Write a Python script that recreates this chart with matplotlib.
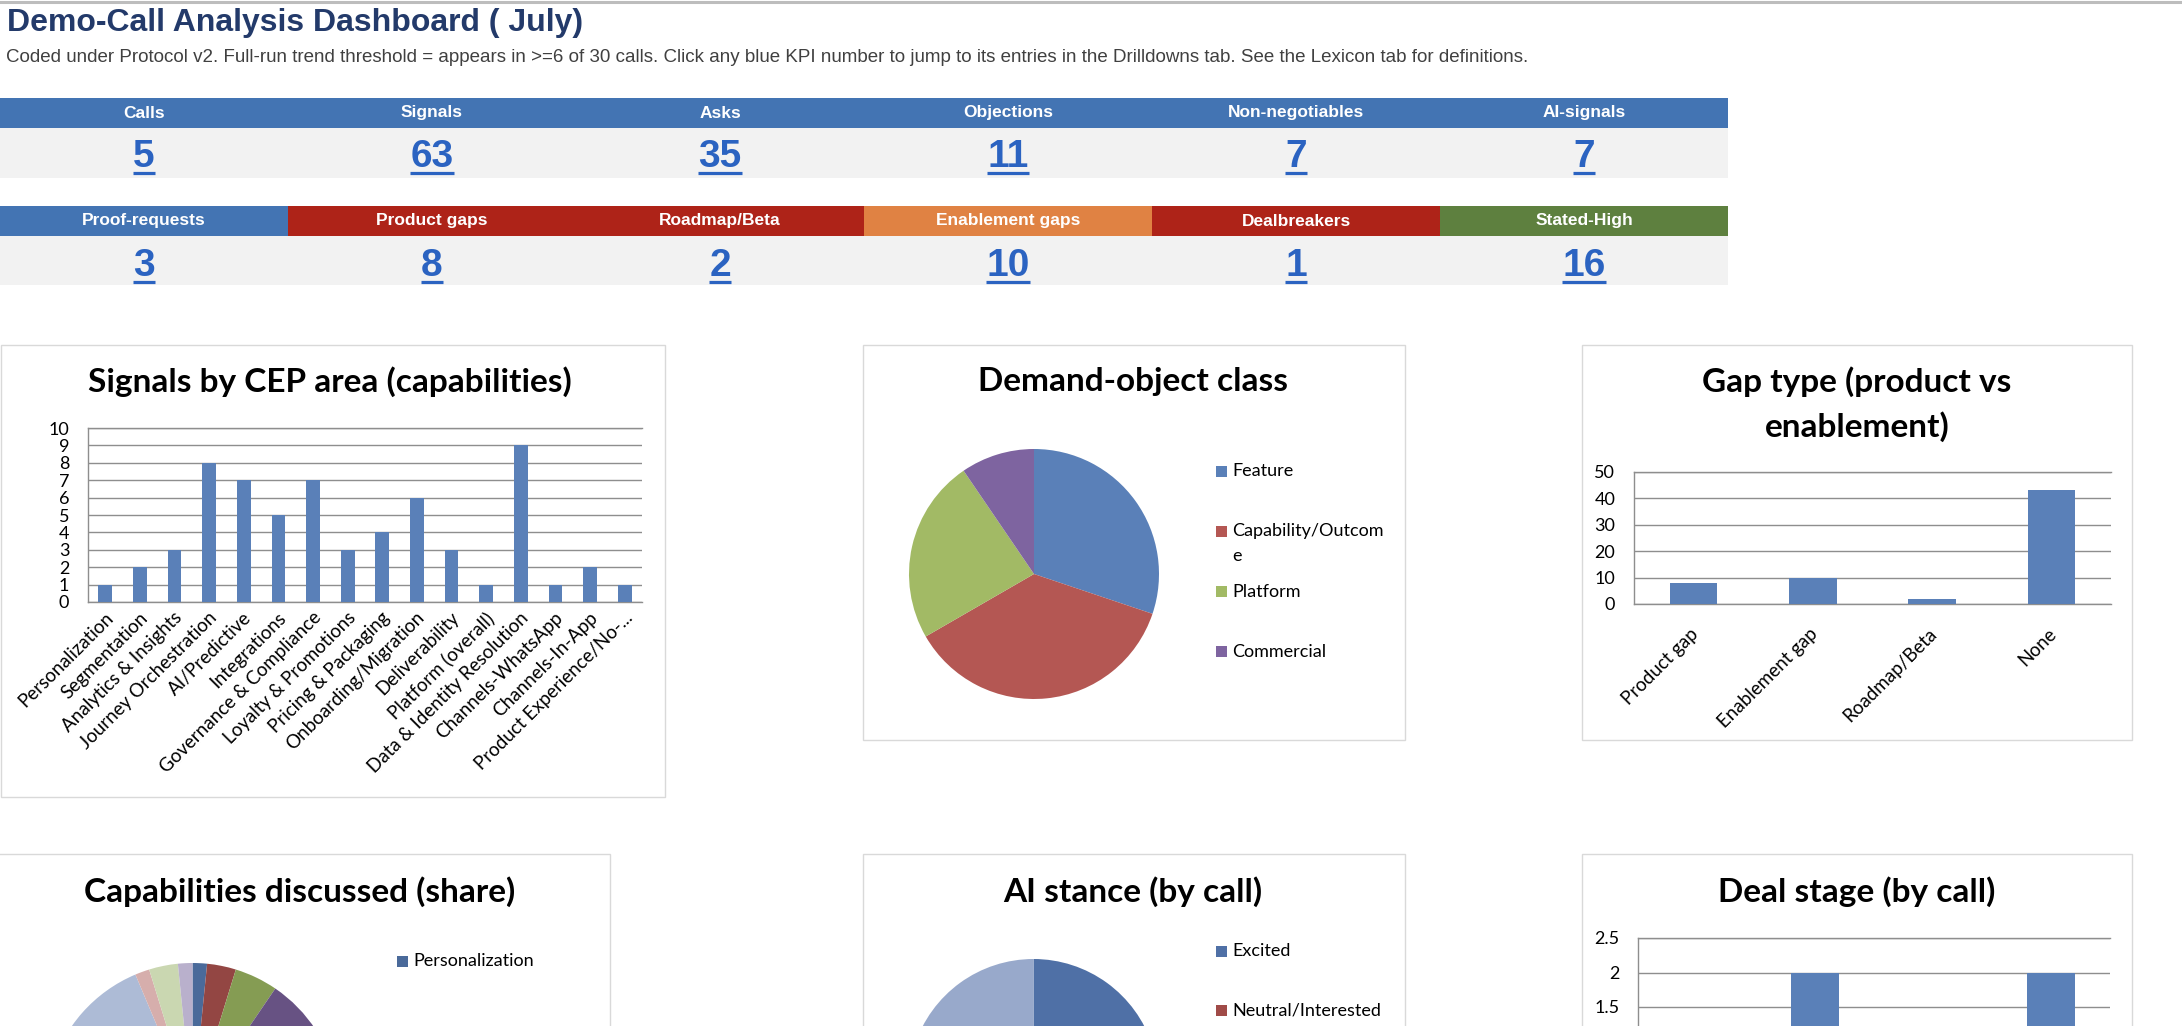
import numpy as np
import matplotlib
matplotlib.use("Agg")
import matplotlib.pyplot as plt
import matplotlib.transforms as mtrans
from matplotlib.lines import Line2D
from matplotlib.patches import Rectangle

# --- data -------------------------------------------------------------
title = "Demo-Call Analysis Dashboard ( July)"
subtitle = ("Coded under Protocol v2. Full-run trend threshold = appears in >=6 of 30 calls. "
            "Click any blue KPI number to jump to its entries in the Drilldowns tab. "
            "See the Lexicon tab for definitions.")

kpi_row1_labels = ["Calls", "Signals", "Asks", "Objections", "Non-negotiables", "AI-signals"]
kpi_row1_values = [5, 63, 35, 11, 7, 7]
kpi_row2_labels = ["Proof-requests", "Product gaps", "Roadmap/Beta", "Enablement gaps",
                   "Dealbreakers", "Stated-High"]
kpi_row2_values = [3, 8, 2, 10, 1, 16]

cep_areas = ["Personalization", "Segmentation", "Analytics & Insights", "Journey Orchestration",
             "AI/Predictive", "Integrations", "Governance & Compliance", "Loyalty & Promotions",
             "Pricing & Packaging", "Onboarding/Migration", "Deliverability", "Platform (overall)",
             "Data & Identity Resolution", "Channels-WhatsApp", "Channels-In-App",
             "Product Experience/No-..."]
cep_signals = [1, 2, 3, 8, 7, 5, 7, 3, 4, 6, 3, 1, 9, 1, 2, 1]

demand_classes = ["Feature", "Capability/Outcome", "Platform", "Commercial"]
demand_counts = [19, 23, 15, 6]

gap_types = ["Product gap", "Enablement gap", "Roadmap/Beta", "None"]
gap_counts = [8, 10, 2, 43]

ai_stances = ["Excited", "Neutral/Interested", "Cautious", "Skeptical", "Resistant",
              "Not discussed", "Unclear"]
ai_calls = [2, 1, 1, 0, 0, 0, 1]

deal_stages = ["Discovery", "Demo", "Evaluation", "Negotiation"]
deal_calls = [1, 2, 0, 2]

# --- style ------------------------------------------------------------
W, H = 2182, 1026
UI = ["Liberation Sans", "DejaVu Sans"]
CH = ["Lato", "DejaVu Sans"]
HEAD_BLUE, HEAD_RED, HEAD_ORANGE, HEAD_GREEN = "#4374B3", "#AE2318", "#E08243", "#5E803F"
row2_colors = [HEAD_BLUE, HEAD_RED, HEAD_RED, HEAD_ORANGE, HEAD_RED, HEAD_GREEN]
LINK = "#2B63C1"
BAR = "#5A80B8"
GRID = "#8E8E8E"
BORDER = "#D9D9D9"
base4 = ["#5A80B8", "#B45753", "#A2BA65", "#7E64A0"]
shades16 = ["#4A6A9A", "#934643", "#859C53", "#675283", "#3A8CA3", "#D07B3A",
            "#5A80B8", "#B45753", "#A2BA65", "#7E64A0", "#4FA8C2", "#F2984F",
            "#ADBBD6", "#D6AEAC", "#CAD7B1", "#B9B0CC"]
shades7 = ["#4F70A6", "#A04B48", "#8AA557", "#6E5890", "#3F93AB", "#DA8440", "#98A9CB"]

fig = plt.figure(figsize=(W / 100, H / 100), dpi=100)


def fy(y):
    return 1 - y / H


def add_ax(x0, y0, x1, y1):
    return fig.add_axes([x0 / W, 1 - y1 / H, (x1 - x0) / W, (y1 - y0) / H])


def rect(x0, y0, x1, y1, **kw):
    fig.add_artist(Rectangle((x0 / W, fy(y1)), (x1 - x0) / W, (y1 - y0) / H,
                             transform=fig.transFigure, **kw))


def px_text(x, y, s, **kw):
    return fig.text(x / W, fy(y), s, **kw)


def wrap_excel(s, n):
    # Excel breaks long legend entries mid-word
    return s if n is None or len(s) <= n else s[:n] + "\n" + s[n:]


# header
fig.add_artist(Line2D([0, 1], [fy(1.5)] * 2, transform=fig.transFigure, lw=2.2, color="#BDBDBD"))
px_text(7, 23, title, fontsize=23, fontweight="bold", color="#233A6A", va="center", family=UI)
px_text(6, 57, subtitle, fontsize=13.5, color="#404040", va="center", family=UI)

# KPI strips
renderer = fig.canvas.get_renderer()
rows = [
    (kpi_row1_labels, kpi_row1_values, [HEAD_BLUE] * 6, (98, 128, 178), 167, 173),
    (kpi_row2_labels, kpi_row2_values, row2_colors, (206, 236, 285), 276, 282),
]
colw = 288
for labels, values, colors, (h0, h1, v1), base, ul in rows:
    for i, (lab, val, col) in enumerate(zip(labels, values, colors)):
        x0 = i * colw
        rect(x0, h0, x0 + colw, h1, facecolor=col, edgecolor="none")
        rect(x0, h1, x0 + colw, v1, facecolor="#F2F2F2", edgecolor="none")
        px_text(x0 + colw / 2, (h0 + h1) / 2, lab, fontsize=12.5, fontweight="bold", color="white",
                ha="center", va="center", family=UI)
        t = px_text(x0 + colw / 2, base, str(val), fontsize=28, fontweight="bold", color=LINK,
                    ha="center", va="baseline", family=UI)
        bb = t.get_window_extent(renderer)
        fig.add_artist(Line2D([bb.x0 / W, bb.x1 / W], [fy(ul)] * 2, transform=fig.transFigure,
                              lw=2.3, color=LINK, solid_capstyle="butt"))


def chart_title(x, y, s):
    px_text(x, y, s, fontsize=24, fontweight="bold", color="black", ha="center", va="center",
            family=CH)


def bar_chart(plot, cats, vals, ymax, step, dx=2, dy=-26, lsize=13.5):
    ax = add_ax(*plot)
    x = np.arange(len(cats))
    ax.bar(x, vals, width=0.4, color=BAR, zorder=3)
    ax.set_xlim(-0.5, len(cats) - 0.5)
    ax.set_ylim(0, ymax)
    ax.set_yticks(np.arange(0, ymax + step / 2, step))
    ax.yaxis.set_major_formatter(matplotlib.ticker.FuncFormatter(lambda v, p: f"{v:g}"))
    ax.yaxis.grid(True, color=GRID, lw=1)
    ax.set_axisbelow(True)
    ax.set_xticks([])
    for s in ["top", "left", "bottom"]:
        ax.spines[s].set_color(GRID)
        ax.spines[s].set_linewidth(1)
    ax.spines["right"].set_visible(False)
    ax.tick_params(axis="y", length=0, pad=13.5, labelsize=13)
    for lab in ax.get_yticklabels():
        lab.set_family(CH)
    off = ax.get_xaxis_transform() + mtrans.ScaledTranslation(dx / 100, dy / 100, fig.dpi_scale_trans)
    for xi, c in zip(x, cats):
        ax.text(xi, 0, c, transform=off, rotation=45, rotation_mode="anchor", ha="right",
                va="center", fontsize=lsize, family=CH, clip_on=False)
    return ax


def pie_chart(cx, cy, r, vals, colors):
    ax = add_ax(cx - r, cy - r, cx + r, cy + r)
    ax.pie(vals, colors=colors, startangle=90, counterclock=False,
           wedgeprops=dict(linewidth=0))
    ax.set_xlim(-1, 1)
    ax.set_ylim(-1, 1)
    ax.axis("off")
    return ax


def legend(x, y0, step, labels, colors, wrap=None):
    for i, (lab, col) in enumerate(zip(labels, colors)):
        y = y0 + i * step
        rect(x, y - 5.5, x + 11, y + 5.5, facecolor=col, edgecolor="none")
        for j, line in enumerate(wrap_excel(lab, wrap).split("\n")):
            px_text(x + 16, y + j * 25, line, fontsize=13, va="center", family=CH)


# chart frames
for box in [(1, 345, 665, 797), (863, 345, 1405, 740), (1582, 345, 2132, 740),
            (-10, 854, 610, 1400), (863, 854, 1405, 1400), (1582, 854, 2132, 1400)]:
    rect(*box, facecolor="none", edgecolor=BORDER, lw=1)

# Signals by CEP area
chart_title(330, 382, "Signals by CEP area (capabilities)")
bar_chart((88, 428, 642, 602), cep_areas, cep_signals, 10, 1, dx=5, dy=-13)

# Demand-object class
chart_title(1133, 382, "Demand-object class")
pie_chart(1034, 574, 125, demand_counts, base4)
legend(1216, 471, 60.3, demand_classes, base4, wrap=17)

# Gap type
chart_title(1857, 382, "Gap type (product vs")
chart_title(1857, 427, "enablement)")
bar_chart((1634, 472, 2111, 604), gap_types, gap_counts, 50, 10, dx=2, dy=-27)

# Capabilities discussed
chart_title(300, 892, "Capabilities discussed (share)")
pie_chart(192.5, 1110, 147, cep_signals, shades16)
legend(397, 961, 80, cep_areas, shades16)

# AI stance
chart_title(1133, 892, "AI stance (by call)")
pie_chart(1033.5, 1084, 125, ai_calls, shades7)
legend(1216, 951, 59.5, ai_stances, shades7)

# Deal stage
chart_title(1857, 892, "Deal stage (by call)")
bar_chart((1638, 938, 2110, 1110.5), deal_stages, deal_calls, 2.5, 0.5)

fig.savefig("out.png", dpi=100)
